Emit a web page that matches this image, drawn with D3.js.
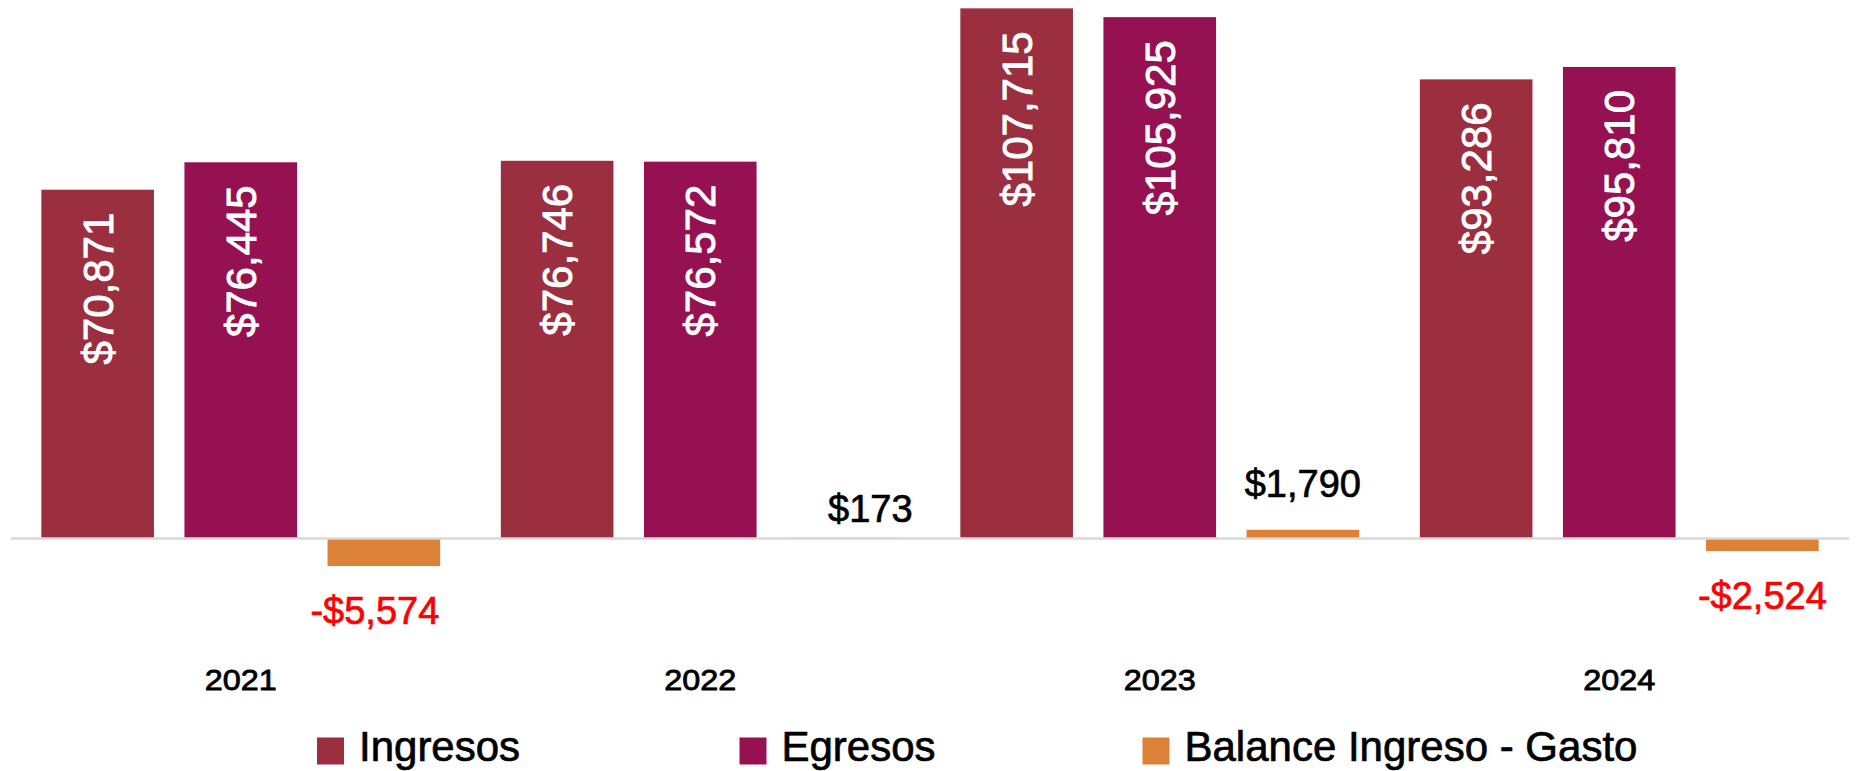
<!DOCTYPE html>
<html>
<head>
<meta charset="utf-8">
<script src="https://cdn.jsdelivr.net/npm/d3@7"></script>
<style>
  html, body { margin: 0; padding: 0; background: #fff; }
  svg { display: block; font-family: "Liberation Sans", Arial, Helvetica, sans-serif; }
  text { paint-order: stroke; }
</style>
</head>
<body>
<svg id="chart"></svg>
<script>
// data
const years = ["2021", "2022", "2023", "2024"];
const seriesNames = ["Ingresos", "Egresos", "Balance Ingreso - Gasto"];
const ingresos = [70871, 76746, 107715, 93286];
const egresos = [76445, 76572, 105925, 95810];
const balance = [-5574, 173, 1790, -2524];

const colors = ["#9b2e3f", "#961152", "#db8138"];

const width = 1856, height = 771;
const baseY = 538.6;

// a couple of balance labels were hand-moved in the original
const balanceShift = [[-9, 0], [27, 17], [0, 0], [0, 0]];
const legendX = [317, 739.5, 1142.5];

const svg = d3.select("#chart")
    .attr("width", width)
    .attr("height", height);

const table = years.map((yr, i) => ({
    year: yr,
    values: [ingresos[i], egresos[i], balance[i]]
}));

const x0 = d3.scaleBand()
    .domain(years)
    .range([11, 1849])
    .padding(0);

const x1 = d3.scaleBand()
    .domain(d3.range(3))
    .range([0, x0.bandwidth()])
    .paddingInner(0.213)
    .paddingOuter(0.212);

const y = d3.scaleLinear()
    .domain([0, 110000])
    .range([baseY, -2.9]);

const fmt = d3.format(",");
const money = v => (v < 0 ? "-$" : "$") + fmt(Math.abs(v));

const groups = svg.append("g")
    .selectAll("g")
    .data(table)
    .enter().append("g")
    .attr("transform", d => "translate(" + x0(d.year) + ",0)");

groups.selectAll("rect")
    .data(d => d.values.map((v, k) => ({k: k, v: v})))
    .enter().append("rect")
    .attr("x", d => x1(d.k))
    .attr("width", x1.bandwidth())
    .attr("y", d => Math.min(y(d.v), y(0)))
    .attr("height", d => Math.abs(y(d.v) - y(0)))
    .attr("fill", d => colors[d.k]);

// axis line
svg.append("line")
    .attr("x1", 11).attr("x2", 1849)
    .attr("y1", y(0)).attr("y2", y(0))
    .attr("stroke", "#d9d9d9")
    .attr("stroke-width", 2.5);

// white rotated labels inside the big bars
groups.selectAll("text.inner")
    .data(d => d.values.slice(0, 2).map((v, k) => ({k: k, v: v})))
    .enter().append("text")
    .attr("class", "inner")
    .attr("transform", d => "translate(" + (x1(d.k) + x1.bandwidth() / 2) + "," + (y(d.v) + 23) + ") rotate(-90)")
    .attr("text-anchor", "end")
    .attr("dy", "0.36em")
    .attr("fill", "#fff")
    .attr("stroke", "#fff")
    .attr("stroke-width", 0.9)
    .attr("font-size", 42)
    .text(d => money(d.v));

// balance labels
groups.append("text")
    .attr("x", (d, i) => x1(2) + x1.bandwidth() / 2 + balanceShift[i][0])
    .attr("y", (d, i) => {
        const v = d.values[2];
        return v < 0 ? y(v) + 58 : y(v) - 33 + balanceShift[i][1];
    })
    .attr("text-anchor", "middle")
    .attr("font-size", 38)
    .attr("fill", d => d.values[2] < 0 ? "#ff0000" : "#000")
    .attr("stroke", d => d.values[2] < 0 ? "#ff0000" : "#000")
    .attr("stroke-width", 0.7)
    .text(d => money(d.values[2]));

// year labels
svg.append("g")
    .selectAll("text")
    .data(years)
    .enter().append("text")
    .attr("x", d => x0(d) + x0.bandwidth() / 2)
    .attr("y", 690)
    .attr("text-anchor", "middle")
    .attr("font-size", 29)
    .attr("textLength", 72)
    .attr("lengthAdjust", "spacingAndGlyphs")
    .attr("fill", "#000")
    .attr("stroke", "#000")
    .attr("stroke-width", 0.8)
    .text(d => d);

// legend
const legend = svg.append("g")
    .selectAll("g")
    .data(seriesNames)
    .enter().append("g")
    .attr("transform", (d, i) => "translate(" + legendX[i] + ",0)");

legend.append("rect")
    .attr("x", 0)
    .attr("y", 737.5)
    .attr("width", 27)
    .attr("height", 27)
    .attr("fill", (d, i) => colors[i]);

legend.append("text")
    .attr("x", 42)
    .attr("y", 761)
    .attr("font-size", 42)
    .attr("fill", "#000")
    .attr("stroke", "#000")
    .attr("stroke-width", 0.7)
    .text(d => d);
</script>
</body>
</html>
